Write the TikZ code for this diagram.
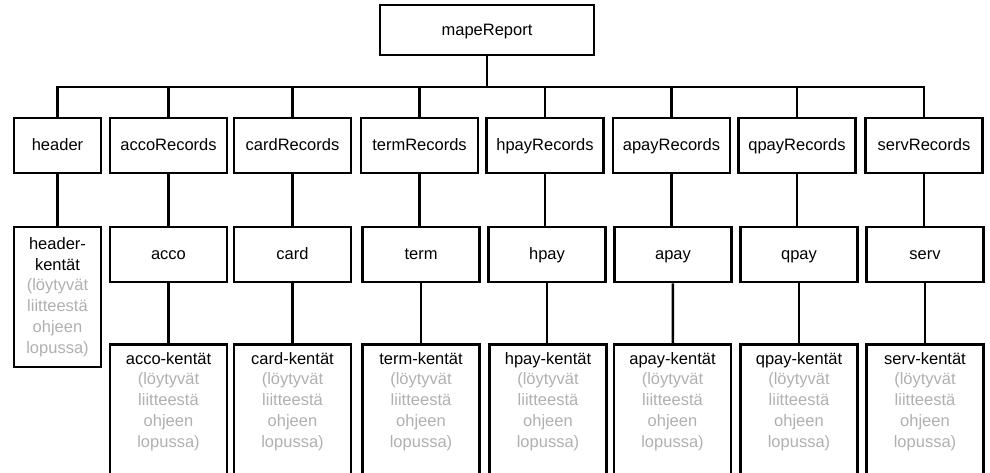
\documentclass[tikz,border=0pt]{standalone}
\usepackage{fontspec}
\setmainfont{Liberation Sans}
\usepackage{xcolor}
\definecolor{notegray}{RGB}{176,176,176}
\tikzset{
    x=1pt, y=-1pt,
    box/.style ={rectangle, draw, line width=2.8pt, minimum width=117pt,
                 minimum height=55pt, inner sep=2pt, text height=11pt, text depth=0.5pt,
                 font=\fontsize{16.5}{20.7}\selectfont},
    fieldbox/.style ={box, anchor=north, minimum height=170pt},
    fields/.style ={align=center, text width=110pt, inner sep=2pt,
                    font=\fontsize{16.5}{20.7}\selectfont}
    }
\newcommand{\kentat}[1]{#1-kentät\\ \color{notegray}(löytyvät\\ liitteestä\\ ohjeen\\ lopussa)}

\begin{document}
\begin{tikzpicture}[line width=2.5pt]
    \useasboundingbox (0,0) rectangle (990,472);
    \node (root) at (487,30) [box, minimum width=214pt, minimum height=50pt] {mapeReport};
    \coordinate (bus) at (487,87);

    % records level
    \node (hdrR)  at (57.5,145.5)  [box, minimum width=87pt] {header};
    \node (accoR) at (168.5,145.5) [box] {accoRecords};
    \node (cardR) at (292.5,145.5) [box] {cardRecords};
    \node (termR) at (419.5,145.5) [box] {termRecords};
    \node (hpayR) at (545,145.5)   [box] {hpayRecords};
    \node (apayR) at (671.5,145.5) [box] {apayRecords};
    \node (qpayR) at (797,145.5)   [box] {qpayRecords};
    \node (servR) at (924,145.5)   [box] {servRecords};

    % record level
    \node (hdr)  at (57.5,297)  [box, minimum width=87pt, minimum height=140pt,
                                 text height=, text depth=, text width=80pt, align=center]
                                {header-\\kentät\\ \color{notegray}(löytyvät\\ liitteestä\\ ohjeen\\ lopussa)};
    \node (acco) at (168.5,254.5) [box] {acco};
    \node (card) at (292.5,254.5) [box] {card};
    \node (term) at (421,254.5)   [box] {term};
    \node (hpay) at (547,254.5)   [box] {hpay};
    \node (apay) at (673,254.5)   [box] {apay};
    \node (qpay) at (799,254.5)   [box] {qpay};
    \node (serv) at (925,254.5)   [box] {serv};

    % field level
    \node (accoF) at (168.5,343) [fieldbox, label={[fields, anchor=north, yshift=-6pt]north:{\kentat{acco}}}] {};
    \node (cardF) at (292.5,343) [fieldbox, label={[fields, anchor=north, yshift=-6pt]north:{\kentat{card}}}] {};
    \node (termF) at (421,343)   [fieldbox, label={[fields, anchor=north, yshift=-6pt]north:{\kentat{term}}}] {};
    \node (hpayF) at (548,343)   [fieldbox, label={[fields, anchor=north, yshift=-6pt]north:{\kentat{hpay}}}] {};
    \node (apayF) at (672.5,343) [fieldbox, label={[fields, anchor=north, yshift=-6pt]north:{\kentat{apay}}}] {};
    \node (qpayF) at (799,343)   [fieldbox, label={[fields, anchor=north, yshift=-6pt]north:{\kentat{qpay}}}] {};
    \node (servF) at (925,343)   [fieldbox, label={[fields, anchor=north, yshift=-6pt]north:{\kentat{serv}}}] {};

    \draw (root) -- (bus);
    \draw (hdrR.north) -- (hdrR.north |- bus) -- (servR.north |- bus) -- (servR.north);
    \path (accoR |- bus) edge (accoR);
    \path (cardR |- bus) edge (cardR);
    \path (termR |- bus) edge (termR);
    \path (hpayR |- bus) edge (hpayR);
    \path (apayR |- bus) edge (apayR);
    \path (qpayR |- bus) edge (qpayR);

    \path (hdrR) edge (hdr);
    \path (accoR) edge (acco);
    \path (cardR) edge (card);
    \path (termR.south) edge (termR.south |- term.north);
    \path (hpayR.south) edge (hpayR.south |- hpay.north);
    \path (apayR.south) edge (apayR.south |- apay.north);
    \path (qpayR.south) edge (qpayR.south |- qpay.north);
    \path (servR.south) edge (servR.south |- serv.north);

    \path (acco) edge (accoF);
    \path (card) edge (cardF);
    \path (term) edge (termF);
    \path (hpay.south) edge (hpay.south |- hpayF.north);
    \path (apay) edge (apayF);
    \path (qpay) edge (qpayF);
    \path (serv) edge (servF);
\end{tikzpicture}
\end{document}
